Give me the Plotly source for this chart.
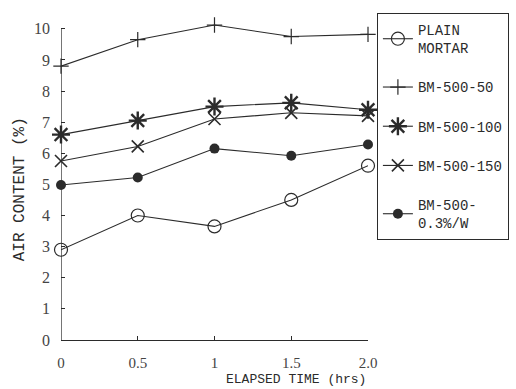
import plotly.graph_objects as go

# Elapsed time (hrs) and air content (%) for each mix
elapsed = [0, 0.5, 1.0, 1.5, 2.0]
plain_mortar = [2.9, 4.0, 3.65, 4.5, 5.6]
bm_500_50 = [8.8, 9.65, 10.12, 9.75, 9.82]
bm_500_100 = [6.6, 7.05, 7.5, 7.62, 7.4]
bm_500_150 = [5.75, 6.22, 7.1, 7.3, 7.2]
bm_500_03w = [4.98, 5.22, 6.15, 5.92, 6.28]

x_tick_vals = [0, 0.5, 1.0, 1.5, 2.0]
x_tick_text = ["0", "0.5", "1", "1.5", "2.0"]
y_tick_vals = list(range(0, 11))

INK = "#2b2b2b"
MONO = "Liberation Mono, Courier New, monospace"
SERIF = "Liberation Serif, DejaVu Serif, serif"

series = [
    ("PLAIN<br>MORTAR", plain_mortar, dict(symbol="circle-open", size=13, line=dict(width=1.2, color=INK))),
    ("BM-500-50", bm_500_50, dict(symbol="cross-thin-open", size=11, line=dict(width=1.2, color=INK))),
    ("BM-500-100", bm_500_100, dict(symbol="asterisk-open", size=15, line=dict(width=2.4, color=INK))),
    ("BM-500-150", bm_500_150, dict(symbol="x-thin-open", size=12, line=dict(width=1.6, color=INK))),
    ("BM-500-<br>0.3%/W", bm_500_03w, dict(symbol="circle", size=10, color=INK, line=dict(width=0, color=INK))),
]

fig = go.Figure()
for i, (name, vals, marker) in enumerate(series):
    fig.add_trace(go.Scatter(
        x=elapsed, y=vals, name=name, mode="lines+markers",
        line=dict(color=INK, width=1.1),
        marker=marker, cliponaxis=False, legendgroup=f"g{i}",
    ))

# Vertical axis line running from 0 to 10
fig.add_shape(type="line", xref="x", yref="y", x0=0, x1=0, y0=0, y1=10,
              line=dict(color=INK, width=1.3), layer="below")

fig.update_layout(
    width=516, height=389,
    margin=dict(l=61, r=148, t=21, b=49, autoexpand=False),
    paper_bgcolor="white", plot_bgcolor="white",
    font=dict(family=SERIF, color=INK),
    showlegend=True,
    legend=dict(
        x=1.029, y=1.025, xanchor="left", yanchor="top",
        bordercolor=INK, borderwidth=1, bgcolor="white",
        font=dict(family=MONO, size=14, color=INK),
        tracegroupgap=18, traceorder="grouped",
        itemwidth=30, maxheight=300,
    ),
    xaxis=dict(
        range=[0, 2.0], showgrid=False, zeroline=False,
        showline=True, linecolor=INK, linewidth=1.3,
        ticks="inside", ticklen=4, tickcolor=INK,
        tickvals=x_tick_vals, ticktext=x_tick_text,
        tickfont=dict(family=SERIF, size=15, color="#444"),
        ticklabelstandoff=9,
    ),
    yaxis=dict(
        range=[0, 10.25], showgrid=False, zeroline=False, showline=False,
        ticks="inside", ticklen=4, tickcolor=INK,
        tickvals=y_tick_vals,
        tickfont=dict(family=SERIF, size=16, color="#444"),
        ticklabelstandoff=10,
    ),
    annotations=[
        dict(text="ELAPSED TIME (hrs)", xref="paper", yref="paper",
             x=0.766, y=-0.153, xanchor="center", yanchor="bottom",
             showarrow=False, font=dict(family=MONO, size=13, color=INK)),
        dict(text="AIR CONTENT (%)", xref="paper", yref="paper",
             x=-0.133, y=0.473, xanchor="center", yanchor="middle",
             textangle=-90, showarrow=False,
             font=dict(family=MONO, size=16, color=INK)),
    ],
)

fig.write_html("out.html")
